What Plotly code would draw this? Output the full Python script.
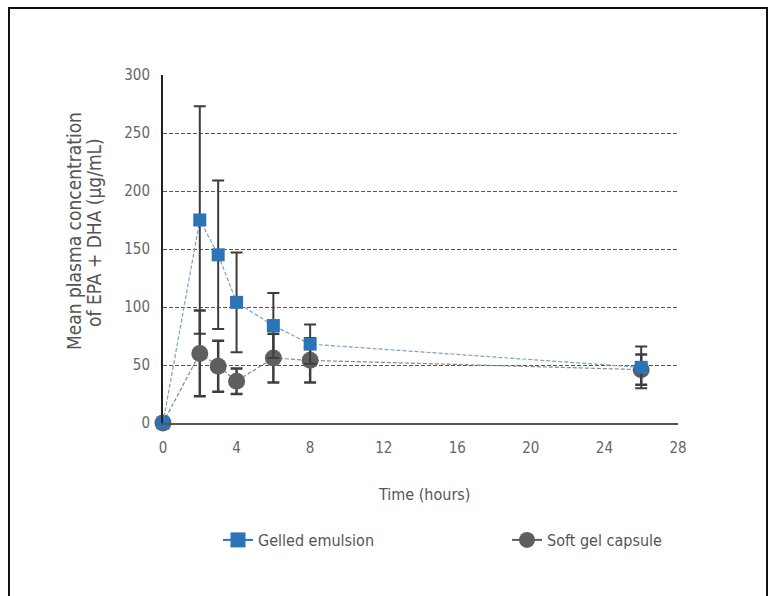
import plotly.graph_objects as go

time_h = [0, 2, 3, 4, 6, 8, 26]
gelled = [0, 175, 145, 104, 84, 68, 48]
gelled_err = [0, 98, 64, 43, 28, 17, 18]
soft = [0, 60, 49, 36, 56, 54, 46]
soft_err = [0, 37, 22, 11, 21, 19, 13]
x_ticks = [0, 4, 8, 12, 16, 20, 24, 28]
y_ticks = [0, 50, 100, 150, 200, 250, 300]

BLUE = "#2b74b7"
GRAY = "#5f5f5f"
ERR = "#3d3d3d"
FONT = "DejaVu Sans Condensed"

fig = go.Figure()

fig.add_trace(go.Scatter(
    x=time_h, y=soft, mode="lines+markers", showlegend=False,
    line=dict(color="#8a8a8a", width=1.2, dash="4px,2px"),
    marker=dict(symbol="circle", size=17, color=GRAY),
    error_y=dict(type="data", array=soft_err, visible=True, color=ERR, thickness=2.5, width=6),
    cliponaxis=False,
))
fig.add_trace(go.Scatter(
    x=time_h, y=gelled, mode="lines+markers", showlegend=False,
    line=dict(color="#7aa2c8", width=1.2, dash="4px,2px"),
    marker=dict(symbol="square", size=13, color=BLUE),
    error_y=dict(type="data", array=gelled_err, visible=True, color=ERR, thickness=2, width=6),
    cliponaxis=False,
))

# legend entries (solid line style as in the reference legend)
fig.add_trace(go.Scatter(
    x=[None], y=[None], mode="lines+markers", name="Gelled emulsion", legend="legend",
    line=dict(color=BLUE, width=2), marker=dict(symbol="square", size=15, color=BLUE),
))
fig.add_trace(go.Scatter(
    x=[None], y=[None], mode="lines+markers", name="Soft gel capsule", legend="legend2",
    line=dict(color=GRAY, width=2), marker=dict(symbol="circle", size=18, color=GRAY),
))

L, R, T, B = 163, 678, 75, 423
W, H = 775, 596

leg_common = dict(
    orientation="h", xref="container", yref="container",
    y=1 - 523 / H, xanchor="left", yanchor="top",
    font=dict(size=16, color="#555555", family=FONT),
    bgcolor="rgba(0,0,0,0)",
)

fig.update_layout(
    width=W, height=H,
    margin=dict(l=L, r=W - R, t=T, b=H - B, autoexpand=False),
    paper_bgcolor="white", plot_bgcolor="white",
    font=dict(family=FONT, size=15, color="#666666"),
    showlegend=True,
    legend=dict(x=218 / W, **leg_common),
    legend2=dict(x=507 / W, **leg_common),
    xaxis=dict(
        range=[0, 28], tickmode="array", tickvals=x_ticks,
        showgrid=False, zeroline=False,
        showline=True, linecolor="#555555", linewidth=2,
        ticks="", ticklabelstandoff=10,
        tickfont=dict(size=15, color="#666666"),
    ),
    yaxis=dict(
        range=[0, 300], tickmode="array", tickvals=y_ticks,
        showgrid=True, gridcolor="#555555", gridwidth=1.2, griddash="4px,2px",
        zeroline=False,
        showline=True, linecolor="#222222", linewidth=2,
        ticks="", ticklabelstandoff=8,
        tickfont=dict(size=15, color="#666666"),
    ),
    annotations=[
        dict(text="Mean plasma concentration",
             xref="paper", yref="paper",
             x=(74 - L) / (R - L), y=(B - 231) / (B - T), xanchor="center", yanchor="middle",
             textangle=-90, showarrow=False,
             font=dict(size=19, color="#555555", family=FONT)),
        dict(text="of EPA + DHA (µg/mL)",
             xref="paper", yref="paper",
             x=(94 - L) / (R - L), y=(B - 233) / (B - T), xanchor="center", yanchor="middle",
             textangle=-90, showarrow=False,
             font=dict(size=19, color="#555555", family=FONT)),
        dict(text="Time (hours)", xref="paper", yref="paper",
             x=(424 - L) / (R - L), y=(B - 494) / (B - T),
             xanchor="center", yanchor="middle", showarrow=False,
             font=dict(size=16, color="#555555", family=FONT)),
    ],
    shapes=[
        dict(type="rect", xref="paper", yref="paper",
             x0=(9 - L) / (R - L), x1=(767 - L) / (R - L),
             y0=(B - 610) / (B - T), y1=(B - 8) / (B - T),
             line=dict(color="#111111", width=2), fillcolor="rgba(0,0,0,0)",
             layer="below"),
    ],
)

fig.write_html(
    "out.html",
    config={"displayModeBar": False},
    post_script="document.body.style.margin='0';document.body.style.overflow='hidden';",
)
